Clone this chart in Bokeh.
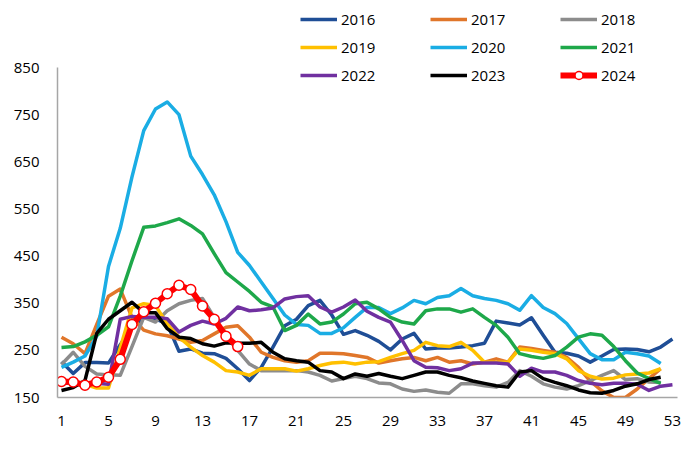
from bokeh.plotting import figure
from bokeh.models import Range1d, FixedTicker, Legend, LegendItem
from bokeh.embed import file_html
from bokeh.resources import INLINE

weeks = list(range(1, 54))

y2016 = [226, 201, 224, 224, 223, 262, 298, 320, 317, 306, 248, 253, 244, 243, 233, 211, 186, 214, 257, 302,
         316, 345, 356, 325, 284, 292, 282, 269, 251, 274, 286, 253, 255, 255, 257, 260, 265, 312, 308, 304,
         319, 282, 246, 244, 238, 225, 238, 252, 253, 252, 247, 257, 274]
y2017 = [278, 264, 243, 305, 365, 380, 320, 293, 285, 281, 274, 267, 271, 285, 299, 302, 278, 246, 235, 228,
         225, 228, 244, 244, 243, 239, 235, 223, 228, 232, 235, 228, 235, 225, 228, 221, 225, 232, 225, 257,
         254, 250, 246, 235, 214, 185, 164, 150, 150, 168, 190, 211]
y2018 = [220, 246, 216, 200, 198, 197, 258, 320, 310, 334, 349, 356, 360, 320, 280, 250, 221, 207, 207, 207,
         207, 204, 197, 185, 190, 195, 190, 181, 179, 168, 163, 166, 161, 159, 179, 179, 175, 172, 182, 207,
         195, 179, 172, 168, 175, 186, 197, 207, 188, 190, 183, 182]
y2019 = [185, 183, 178, 170, 170, 255, 340, 349, 345, 306, 278, 257, 239, 225, 207, 204, 197, 211, 211, 211,
         206, 211, 218, 223, 225, 221, 225, 226, 235, 243, 250, 267, 260, 258, 267, 250, 225, 225, 225, 253,
         250, 246, 243, 232, 207, 195, 189, 191, 198, 200, 202, 211]
y2020 = [214, 225, 238, 280, 428, 509, 618, 716, 762, 777, 750, 662, 623, 580, 523, 458, 430, 395, 360, 325,
         305, 303, 286, 286, 298, 320, 341, 341, 328, 340, 356, 349, 362, 366, 381, 366, 360, 356, 349, 335,
         366, 341, 328, 307, 275, 243, 230, 230, 246, 243, 238, 222]
y2021 = [256, 258, 268, 282, 300, 365, 440, 511, 514, 521, 529, 515, 497, 455, 415, 395, 375, 352, 342, 292,
         303, 327, 306, 310, 327, 349, 352, 338, 320, 310, 306, 334, 338, 338, 331, 338, 320, 303, 278, 243,
         237, 233, 239, 257, 278, 285, 282, 258, 228, 202, 190, 180]
y2022 = [180, 180, 178, 180, 178, 316, 322, 320, 320, 317, 289, 303, 312, 306, 318, 342, 334, 336, 340, 359,
         364, 366, 342, 331, 342, 357, 333, 320, 310, 271, 228, 214, 213, 207, 211, 223, 223, 223, 221, 195,
         212, 204, 204, 197, 186, 180, 177, 180, 180, 178, 165, 174, 177]
y2023 = [165, 171, 186, 286, 316, 334, 352, 330, 330, 296, 278, 275, 264, 259, 266, 265, 265, 267, 246, 232,
         228, 225, 207, 204, 190, 200, 195, 201, 195, 190, 197, 204, 204, 197, 192, 185, 180, 175, 172, 204,
         207, 190, 182, 175, 166, 160, 159, 165, 174, 179, 188, 193]
y2024 = [184, 183, 176, 183, 193, 231, 305, 332, 350, 370, 388, 379, 344, 316, 280, 258]

labels = ["2016", "2017", "2018", "2019", "2020", "2021", "2022", "2023"]
series = [y2016, y2017, y2018, y2019, y2020, y2021, y2022, y2023]
colors = ["#1F4E96", "#E0762A", "#8C8C8C", "#FFC000", "#1AADE4", "#1EA84A", "#7030A0", "#000000"]
y_ticks = [150, 250, 350, 450, 550, 650, 750, 850]
x_ticks = [1, 5, 9, 13, 17, 21, 25, 29, 33, 37, 41, 45, 49, 53]

FONT = "Open Sans"

p = figure(width=684, height=451, output_backend="svg", toolbar_location=None,
           x_range=Range1d(0.66, 53.43), y_range=Range1d(150, 975.2),
           min_border_left=57, min_border_right=7, min_border_top=8, min_border_bottom=54)
p.outline_line_color = None
p.xgrid.visible = False
p.ygrid.visible = False
p.background_fill_color = "white"

renderers = {}
for lab, ys, col in zip(labels, series, colors):
    r = p.line(weeks[:len(ys)], ys, line_color=col, line_width=3.5, line_join="round")
    renderers[lab] = [r]

r24 = p.line(weeks[:len(y2024)], y2024, line_color="#FF0000", line_width=6, line_join="round")
s24 = p.scatter(weeks[:len(y2024)], y2024, size=10, marker="circle", fill_color="white",
                line_color="#FF0000", line_width=1.5)
renderers["2024"] = [r24, s24]

for ax in (p.xaxis[0], p.yaxis[0]):
    ax.axis_line_color = "#A6A6A6"
    ax.axis_line_width = 1.5
    ax.major_tick_line_color = None
    ax.minor_tick_line_color = None
    ax.major_label_text_font = FONT
    ax.major_label_text_font_size = "15px"
    ax.major_label_text_color = "#000000"

p.yaxis[0].ticker = FixedTicker(ticks=y_ticks)
p.yaxis[0].bounds = (150, 850)
p.yaxis[0].major_label_standoff = 12
p.xaxis[0].ticker = FixedTicker(ticks=x_ticks)
p.xaxis[0].major_label_standoff = 12

cols = [["2016", "2019", "2022"], ["2017", "2020", "2023"], ["2018", "2021", "2024"]]
xlocs = [243, 373, 503]
for names, xl in zip(cols, xlocs):
    lg = Legend(items=[LegendItem(label=n, renderers=renderers[n]) for n in names],
                location=(xl, 312), orientation="vertical",
                padding=0, margin=0, spacing=8, border_line_color=None,
                background_fill_alpha=0, glyph_width=37, glyph_height=20,
                label_height=20, label_standoff=4,
                label_text_font=FONT, label_text_font_size="15px", label_text_color="#000000")
    p.add_layout(lg, "center")

open("out.html", "w").write(file_html(p, INLINE))
